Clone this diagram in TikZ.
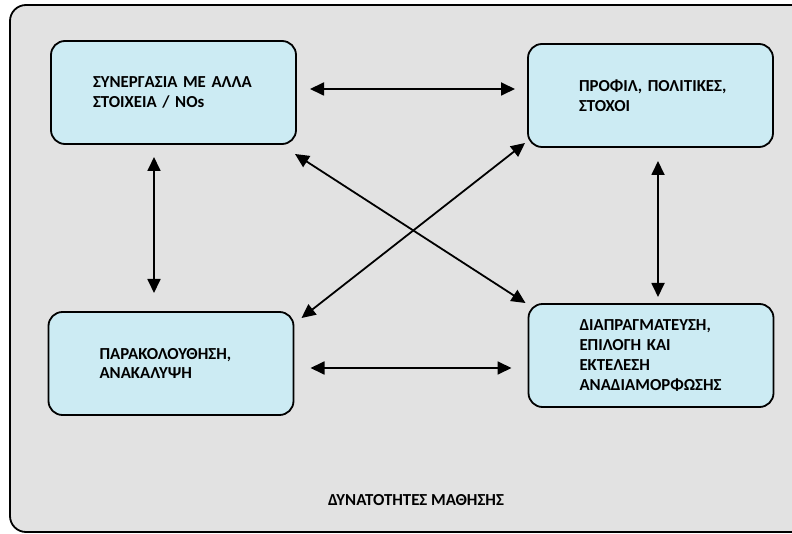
\documentclass[tikz,border=0pt]{standalone}
\usepackage{fontspec}
\setmainfont{Carlito}
\usetikzlibrary{arrows.meta}
\definecolor{boxblue}{RGB}{204,235,243}
\definecolor{bggray}{RGB}{226,226,226}

\begin{document}
\begin{tikzpicture}[x=1pt,y=-1pt,every node/.style={outer sep=0pt},
 box/.style={draw,line width=1.8pt,rounded corners=14pt,fill=boxblue,
 minimum height=103pt,text width=143pt,inner xsep=51pt,align=left,
 font=\fontsize{16.8}{19.8}\selectfont\bfseries},
 link/.style={line width=1.8pt,{Triangle[length=14pt,width=13pt]}-{Triangle[length=14pt,width=13pt]}}]

  \useasboundingbox (0,0) rectangle (792,534);
  \clip (0,0) rectangle (792,534);
  \draw[line width=1.8pt,fill=bggray,rounded corners=16pt] (10,5) rectangle (830,532);

  \node[box,text width=161pt,inner xsep=42pt] (syn) at (173.5,92.5) {ΣΥΝΕΡΓΑΣΙΑ~ΜΕ~ΑΛΛΑ\\ ΣΤΟΙΧΕΙΑ~/~NOs};
  \node[box] (prof) at (650.5,95.5) {ΠΡΟΦΙΛ,~ΠΟΛΙΤΙΚΕΣ,\\ ΣΤΟΧΟΙ};
  \node[box] (par) at (171,363.5) {ΠΑΡΑΚΟΛΟΥΘΗΣΗ,\\ ΑΝΑΚΑΛΥΨΗ};
  \node[box] (dia) at (651,355.5) {ΔΙΑΠΡΑΓΜΑΤΕΥΣΗ,\\ ΕΠΙΛΟΓΗ~ΚΑΙ\\ ΕΚΤΕΛΕΣΗ\\ ΑΝΑΔΙΑΜΟΡΦΩΣΗΣ};

  \node[font=\fontsize{16.8}{20}\selectfont\bfseries] (title) at (416,500) {ΔΥΝΑΤΟΤΗΤΕΣ ΜΑΘΗΣΗΣ};

  % horizontal
  \draw[link] ([shift={(14,-3.5)}]syn.east) -- ([shift={(-13,-6.5)}]prof.west);
  \draw[link] ([shift={(17,4.5)}]par.east) -- ([shift={(-17,12.5)}]dia.west);
  % vertical
  \draw[link] ([shift={(-19.5,13)}]syn.south) -- ([shift={(-17,-19)}]par.north);
  \draw[link] ([shift={(7.5,14)}]prof.south) -- ([shift={(7,-7)}]dia.north);
  % diagonal
  \draw[link] ([shift={(-1,10)}]syn.south east) -- ([shift={(-3,-1)}]dia.north west);
  \draw[link] ([shift={(-3,-4)}]prof.south west) -- ([shift={(8,6)}]par.north east);
\end{tikzpicture}
\end{document}
